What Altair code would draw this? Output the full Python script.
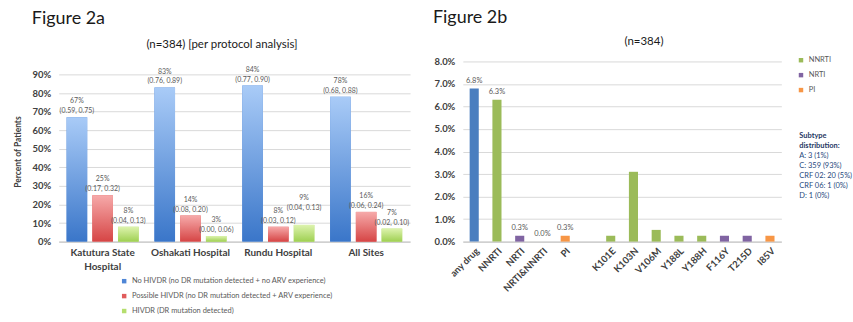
import altair as alt
import pandas as pd

# ---------- Figure 2a data ----------
sites = ["Katutura State Hospital", "Oshakati Hospital", "Rundu Hospital", "All Sites"]
series = [
    "No HIVDR (no DR mutation detected + no ARV experience)",
    "Possible HIVDR (no DR mutation detected + ARV experience)",
    "HIVDR (DR mutation detected)",
]
no_hivdr = [0.67, 0.83, 0.84, 0.78]
no_hivdr_ci = ["(0.59, 0.75)", "(0.76, 0.89)", "(0.77, 0.90)", "(0.68, 0.88)"]
possible = [0.25, 0.14, 0.08, 0.16]
possible_ci = ["(0.17, 0.32)", "(0.08, 0.20)", "(0.03, 0.12)", "(0.06, 0.24)"]
hivdr = [0.08, 0.03, 0.09, 0.07]
hivdr_ci = ["(0.04, 0.13)", "(0.00, 0.06)", "(0.04, 0.13)", "(0.02, 0.10)"]
left_ticks = [0, 0.1, 0.2, 0.3, 0.4, 0.5, 0.6, 0.7, 0.8, 0.9]

# ---------- Figure 2b data ----------
cats = ["any drug", "NNRTI", "NRTI", "NRTI&NNRTI", "PI", " ",
        "K101E", "K103N", "V106M", "Y188L", "Y188H", "F116Y", "T215D", "I85V"]
cat_vals = [0.068, 0.063, 0.0026, 0.0, 0.0026, None,
            0.0026, 0.031, 0.0052, 0.0026, 0.0026, 0.0026, 0.0026, 0.0026]
cat_group = ["any", "NNRTI", "NRTI", "NNRTI", "PI", None,
             "NNRTI", "NNRTI", "NNRTI", "NNRTI", "NNRTI", "NRTI", "NRTI", "PI"]
cat_labels = ["6.8%", "6.3%", "0.3%", "0.0%", "0.3%", "",
              "", "", "", "", "", "", "", ""]
right_ticks = [0, 0.01, 0.02, 0.03, 0.04, 0.05, 0.06, 0.07, 0.08]
subtype_head = "Subtype\ndistribution:"
subtype_lines = ["A: 3 (1%)", "C: 359 (93%)", "CRF 02: 20 (5%)", "CRF 06: 1 (0%)", "D: 1 (0%)"]

FONT = "Lato"
LBL = "#404040"
GRID = "#D9D9D9"
YTITLE = "Percent of Patients"

# ---------- build left table ----------
rows = []
for vals, cis, s in [(no_hivdr, no_hivdr_ci, series[0]), (possible, possible_ci, series[1]), (hivdr, hivdr_ci, series[2])]:
    for i, (site, v, ci) in enumerate(zip(sites, vals, cis)):
        # lift a label above its neighbour's label when two adjacent bars are nearly equal
        lift = 0.06 if (s == series[2] and abs(possible[i] - hivdr[i]) < 0.03) else 0.0
        rows.append({"site": site, "series": s, "value": v, "label_y": v + lift,
                     "label": f"{round(v * 100)}%\n{ci}"})
left_df = pd.DataFrame(rows)

left_y_scale = alt.Scale(domain=[0, 0.97], nice=False)
left_y_axis = alt.Axis(values=left_ticks, format=".0%",
                       labelFontWeight="bold", labelFontSize=9.5, labelColor=LBL,
                       domain=False, ticks=False, labelPadding=8, gridColor=GRID,
                       titleFontSize=8.5, titleFontWeight="bold",
                       titleColor=LBL, titlePadding=10)

base_l = alt.Chart(left_df).encode(
    x=alt.X("site:N", sort=sites,
            scale=alt.Scale(domain=sites, paddingInner=0.15, paddingOuter=0.075),
            axis=alt.Axis(title=None, labelAngle=0, labelFontWeight="bold", labelFontSize=10,
                          labelColor=LBL, ticks=False, domainColor="#BFBFBF", labelPadding=6,
                          labelLineHeight=14,
                          labelExpr="datum.value == 'Katutura State Hospital' ? ['Katutura State', 'Hospital'] : datum.value")),
    xOffset=alt.XOffset("series:N", sort=series,
                        scale=alt.Scale(domain=series, paddingInner=0.2, paddingOuter=0.05)),
    y=alt.Y("value:Q", title=YTITLE, scale=left_y_scale, axis=left_y_axis),
)

solid_l = ["#4F86D6", "#E05C5C", "#B5DE6E"]
grads = [("#A9CBF7", "#3A76C9"), ("#F6AAAA", "#D64545"), ("#DDF3AE", "#9FD052")]

legend_l = base_l.mark_bar().encode(
    color=alt.Color("series:N", sort=series,
                    scale=alt.Scale(domain=series, range=solid_l),
                    legend=alt.Legend(title=None, orient="none", legendX=62, legendY=217,
                                      direction="vertical", symbolType="square", symbolSize=20,
                                      labelFontSize=7.5, labelColor="#595959", rowPadding=6,
                                      labelLimit=400)))
grad_layers = []
for s, (top, bot) in zip(series, grads):
    grad_layers.append(base_l.transform_filter(alt.datum.series == s).mark_bar(
        fill=alt.Gradient(gradient="linear", x1=0, x2=0, y1=0, y2=1,
                          stops=[alt.GradientStop(color=top, offset=0),
                                 alt.GradientStop(color=bot, offset=1)])))
text_l = base_l.mark_text(lineBreak="\n", baseline="bottom", dy=-13, fontSize=7,
                          color="#595959", lineHeight=10).encode(
    text="label:N", y=alt.Y("label_y:Q", title=YTITLE, scale=left_y_scale, axis=left_y_axis))

ttl_l = alt.Chart(pd.DataFrame({"t": ["Figure 2a"]})).mark_text(
    fontSize=18, align="left", baseline="alphabetic", color="#1a1a1a").encode(
    text="t:N", x=alt.value(-27), y=alt.value(-38))
sub_l = alt.Chart(pd.DataFrame({"t": ["(n=384) [per protocol analysis]"]})).mark_text(
    fontSize=11.5, align="center", baseline="middle", color="#1a1a1a").encode(
    text="t:N", x=alt.value(164), y=alt.value(-17))

left = alt.layer(legend_l, *grad_layers, text_l, ttl_l, sub_l).properties(width=353, height=181)

# ---------- right ----------
right_df = pd.DataFrame({"cat": cats, "value": cat_vals, "group": cat_group, "label": cat_labels})
right_df = right_df[right_df["group"].notna()]

base_r = alt.Chart(right_df).encode(
    x=alt.X("cat:N", sort=cats, scale=alt.Scale(domain=cats, paddingInner=0, paddingOuter=0),
            axis=alt.Axis(title=None, labelAngle=315, labelFontWeight="bold", labelFontSize=9.5,
                          labelColor=LBL, ticks=False, domainColor="#BFBFBF", labelPadding=4,
                          labelAlign="right", labelBaseline="top")),
    y=alt.Y("value:Q", scale=alt.Scale(domain=[0, 0.08], nice=False),
            axis=alt.Axis(values=right_ticks, format=".1%",
                          labelFontWeight="bold", labelFontSize=9.5, labelColor=LBL,
                          domain=False, ticks=False, labelPadding=8, gridColor=GRID, title=None)),
)
bars_r = base_r.mark_bar(width={"band": 0.4}).encode(
    color=alt.Color("group:N",
                    scale=alt.Scale(domain=["NNRTI", "NRTI", "PI", "any"],
                                    range=["#9BBB59", "#8064A2", "#F79646", "#4A7EBF"]),
                    legend=alt.Legend(title=None, orient="none", legendX=336, legendY=-5,
                                      values=["NNRTI", "NRTI", "PI"], direction="vertical",
                                      symbolType="square", symbolSize=20, labelFontSize=7.5,
                                      labelColor="#595959", rowPadding=6)))
text_r = base_r.mark_text(baseline="bottom", dy=-4, fontSize=7.5, color="#595959").encode(text="label:N")

ttl_r = alt.Chart(pd.DataFrame({"t": ["Figure 2b"]})).mark_text(
    fontSize=18, align="left", baseline="alphabetic", color="#1a1a1a").encode(
    text="t:N", x=alt.value(-30), y=alt.value(-39))
sub_r = alt.Chart(pd.DataFrame({"t": ["(n=384)"]})).mark_text(
    fontSize=11.5, align="center", baseline="middle", color="#1a1a1a").encode(
    text="t:N", x=alt.value(182), y=alt.value(-20))
sth = alt.Chart(pd.DataFrame({"t": [subtype_head]})).mark_text(
    fontSize=7.5, fontWeight="bold", align="left", baseline="top", color="#1F3864",
    lineBreak="\n", lineHeight=10).encode(text="t:N", x=alt.value(338), y=alt.value(71))
stl = alt.Chart(pd.DataFrame({"t": ["\n".join(subtype_lines)]})).mark_text(
    fontSize=7.5, align="left", baseline="top", color="#1F497D",
    lineBreak="\n", lineHeight=10).encode(text="t:N", x=alt.value(338), y=alt.value(91))

right = alt.layer(bars_r, text_r, ttl_r, sub_r, sth, stl).properties(width=320, height=181)

chart = alt.hconcat(left, right, spacing=23).resolve_scale(
    color="independent", x="independent", y="independent"
).properties(
    padding={"left": 13, "top": 8, "right": 0, "bottom": 0}
).configure(font=FONT).configure_view(stroke=None)

chart.save("out.html", embed_options={"renderer": "svg", "actions": False})
